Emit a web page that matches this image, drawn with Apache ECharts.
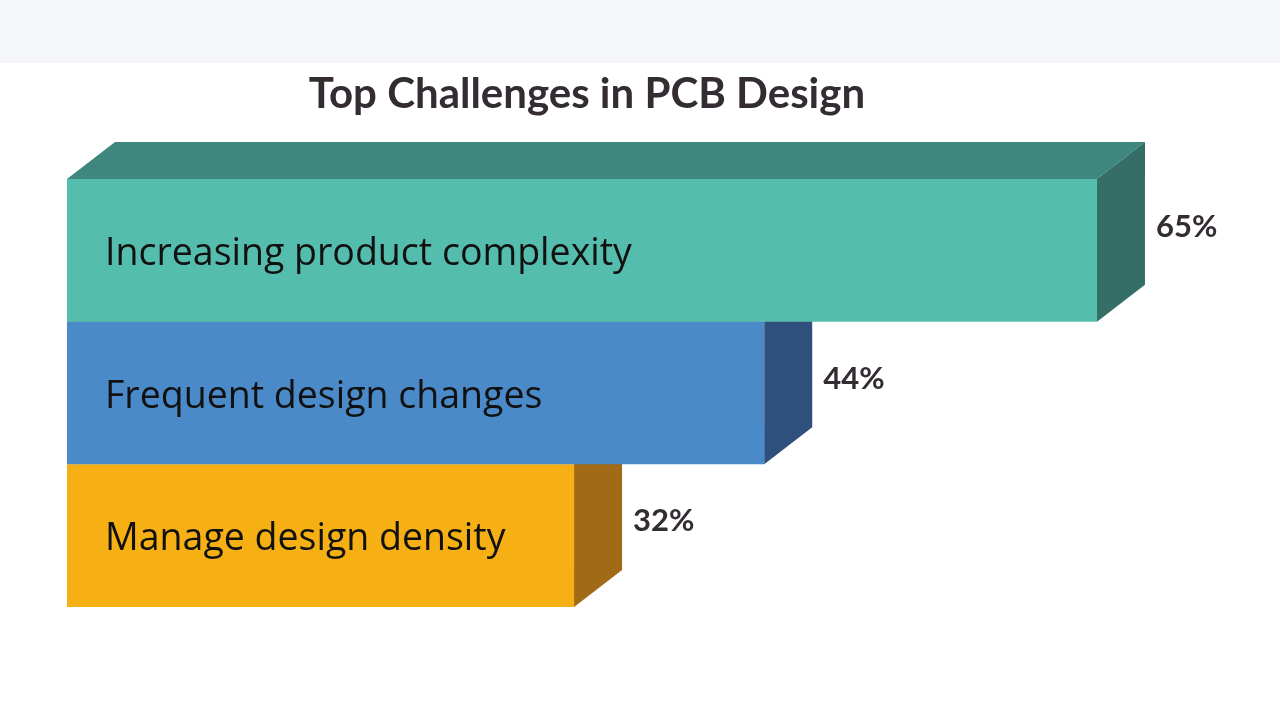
<!DOCTYPE html>
<html>
<head>
<meta charset="utf-8">
<script src="https://cdn.jsdelivr.net/npm/echarts@6/dist/echarts.min.js"></script>
<style>
html,body{margin:0;padding:0;background:#ffffff;}
#chart{width:1280px;height:721px;}
</style>
</head>
<body>
<div id="chart"></div>
<script>
const categories = ['Increasing product complexity', 'Frequent design changes', 'Manage design density'];
const values = [65, 44, 32];
const valueLabels = ['65%', '44%', '32%'];
const titleText = 'Top Challenges in PCB Design';

const frontColors = ['#55bdad', '#4a8ac9', '#f6b013'];
const topColors = ['#3e877e', '#3a6fa6', '#c98f10'];
const sideColors = ['#356e67', '#2f4f7d', '#a06a17'];

const DX = 48, DY = 37;

const chart = echarts.init(document.getElementById('chart'));

function renderItem(params, api) {
  const i = api.value(0);
  const v = api.value(1);
  const p0 = api.coord([0, i]);
  const p1 = api.coord([v, i]);
  const band = api.size([0, 1])[1];
  const x0 = p0[0], x1 = p1[0], yc = p0[1];
  const top = yc - band / 2, bottom = yc + band / 2;
  const base = (categories.length - i) * 10;
  const visTopBack = i === 0 ? top - DY : top;
  const labelY = (top + visTopBack + (bottom - DY) + bottom) / 4 - 5;
  return {
    type: 'group',
    children: [
      {
        type: 'polygon', z2: base,
        shape: { points: [[x0, top], [x0 + DX, top - DY], [x1 + DX, top - DY], [x1, top]] },
        style: { fill: topColors[i] }
      },
      {
        type: 'polygon', z2: base,
        shape: { points: [[x1, top], [x1 + DX, top - DY], [x1 + DX, bottom - DY], [x1, bottom]] },
        style: { fill: sideColors[i] }
      },
      {
        type: 'rect', z2: base + 1,
        shape: { x: x0, y: top, width: x1 - x0, height: band },
        style: { fill: frontColors[i] }
      },
      {
        type: 'text', z2: base + 5,
        style: {
          text: categories[i], x: x0 + 38, y: yc + 4,
          fill: '#111111', fontSize: 37.5, fontFamily: 'Open Sans',
          align: 'left', verticalAlign: 'middle'
        }
      },
      {
        type: 'text', z2: base + 5,
        style: {
          text: valueLabels[i], x: x1 + DX + 11, y: labelY,
          fill: '#332c33', fontSize: 31, fontWeight: 'bold', fontFamily: 'Lato',
          align: 'left', verticalAlign: 'middle'
        }
      }
    ]
  };
}

chart.setOption({
  animation: false,
  backgroundColor: '#ffffff',
  title: {
    text: titleText,
    left: 582, top: 68, textAlign: 'center',
    textStyle: { fontSize: 42, fontWeight: 'bold', fontFamily: 'Lato', color: '#332c33' }
  },
  graphic: [
    { type: 'rect', left: 0, top: 0, z: -1, shape: { width: 1280, height: 63 }, style: { fill: '#f4f6f9' } }
  ],
  grid: { left: 67, top: 179, width: 1109.2, height: 428 },
  xAxis: { type: 'value', min: 0, max: 70, show: false },
  yAxis: { type: 'category', data: categories, inverse: true, show: false },
  series: [{
    type: 'custom',
    renderItem: renderItem,
    data: values.map((v, i) => [i, v]),
    encode: { x: 1, y: 0 }
  }]
});
</script>
</body>
</html>
